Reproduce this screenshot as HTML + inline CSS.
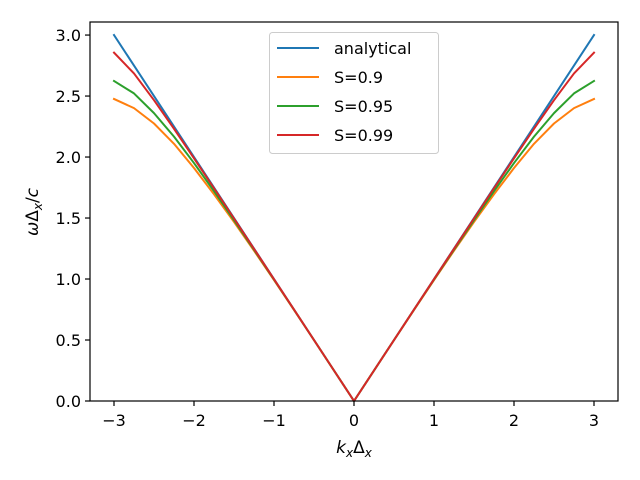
<!DOCTYPE html>
<html><head><meta charset="utf-8"><style>
body{margin:0;background:#fff}
svg{display:block;font-family:"DejaVu Sans","Liberation Sans",sans-serif}
</style></head><body>
<svg id="chart" width="640" height="480" viewBox="0 0 640 480" xmlns="http://www.w3.org/2000/svg">
<rect width="640" height="480" fill="#fff"/>
<g id="plot"></g>
</svg>
<script>
const kx = [-3,-2.75,-2.5,-2.25,-2,-1.75,-1.5,-1.25,-1,-0.75,-0.5,-0.25,0,0.25,0.5,0.75,1,1.25,1.5,1.75,2,2.25,2.5,2.75,3];
const analyticalHalf = [0,0.25,0.5,0.75,1,1.25,1.5,1.75,2,2.25,2.5,2.75,3];
const s09Half = [0,0.2499,0.4990,0.7464,0.9916,1.2324,1.4681,1.6943,1.9099,2.1086,2.2748,2.4010,2.4760];
const s095Half = [0,0.2499,0.4995,0.7483,0.9958,1.2408,1.4824,1.7204,1.9506,2.1671,2.3599,2.5216,2.6235];
const s099Half = [0,0.2500,0.4999,0.7495,0.9989,1.2479,1.4961,1.7441,1.9897,2.2318,2.4659,2.6852,2.8560];
const seriesNames = ["analytical","S=0.9","S=0.95","S=0.99"];
const seriesColors = ["#1f77b4","#ff7f0e","#2ca02c","#d62728"];
const xTicks = [-3,-2,-1,0,1,2,3];
const xTickLabels = ["\u22123","\u22122","\u22121","0","1","2","3"];
const yTicks = [0,0.5,1,1.5,2,2.5,3];
const yTickLabels = ["0.0","0.5","1.0","1.5","2.0","2.5","3.0"];

const L=90,R=618,T=22,B=401,xmin=-3.3,xmax=3.3,ymin=0,ymax=3.107;
const X=v=>L+(v-xmin)/(xmax-xmin)*(R-L);
const Y=v=>B-(v-ymin)/(ymax-ymin)*(B-T);
const NS="http://www.w3.org/2000/svg";
const g=document.getElementById('plot');
function mk(t,a){const e=document.createElementNS(NS,t);for(const k in a)e.setAttribute(k,a[k]);g.appendChild(e);return e;}
const full=h=>h.slice(1).reverse().concat(h);
const series=[full(analyticalHalf),full(s09Half),full(s095Half),full(s099Half)];
series.forEach((ys,i)=>{
  const p=mk('polyline',{points:ys.map((y,j)=>X(kx[j])+','+Y(y)).join(' '),fill:'none',stroke:seriesColors[i],'stroke-width':2,'stroke-linejoin':'round','stroke-linecap':'square'});
  
  
});
const fr=mk('rect',{x:L,y:T,width:R-L,height:B-T,fill:'none',stroke:'#000','stroke-width':1.2});


xTicks.forEach((v,i)=>{
  mk('line',{x1:X(v),x2:X(v),y1:B,y2:B+5,stroke:'#000','stroke-width':1.2});
  const t=mk('text',{x:X(v),y:B+25,'text-anchor':'middle','font-size':16});t.textContent=xTickLabels[i];
  
  
});
yTicks.forEach((v,i)=>{
  mk('line',{x1:L-5,x2:L,y1:Y(v),y2:Y(v),stroke:'#000','stroke-width':1.2});
  const t=mk('text',{x:L-9,y:Y(v)+6,'text-anchor':'end','font-size':16});t.textContent=yTickLabels[i];
  
  
});
const xt=mk('text',{x:354,y:453,'text-anchor':'middle','font-size':17});
xt.innerHTML='<tspan font-style="italic">k</tspan><tspan font-size="12" dy="4" font-style="italic">x</tspan><tspan dy="-4">Δ</tspan><tspan font-size="12" dy="4" font-style="italic">x</tspan>';


const yt=mk('text',{transform:'translate(38,212) rotate(-90)','text-anchor':'middle','font-size':17});
yt.innerHTML='<tspan font-style="italic">ω</tspan><tspan>Δ</tspan><tspan font-size="12" dy="4" font-style="italic">x</tspan><tspan dy="-4">/</tspan><tspan font-style="italic">c</tspan>';


const lg=mk('rect',{x:269.5,y:32.5,width:169,height:121,rx:3,fill:'#fff','fill-opacity':0.8,stroke:'#ccc','stroke-width':1});


seriesNames.forEach((n,i)=>{
  const y=48+i*29;
  mk('line',{x1:277,x2:319,y1:y,y2:y,stroke:seriesColors[i],'stroke-width':2});
  const t=mk('text',{x:334,y:y+6,'font-size':16});t.textContent=n;
  
  
});
</script>
</body></html>
